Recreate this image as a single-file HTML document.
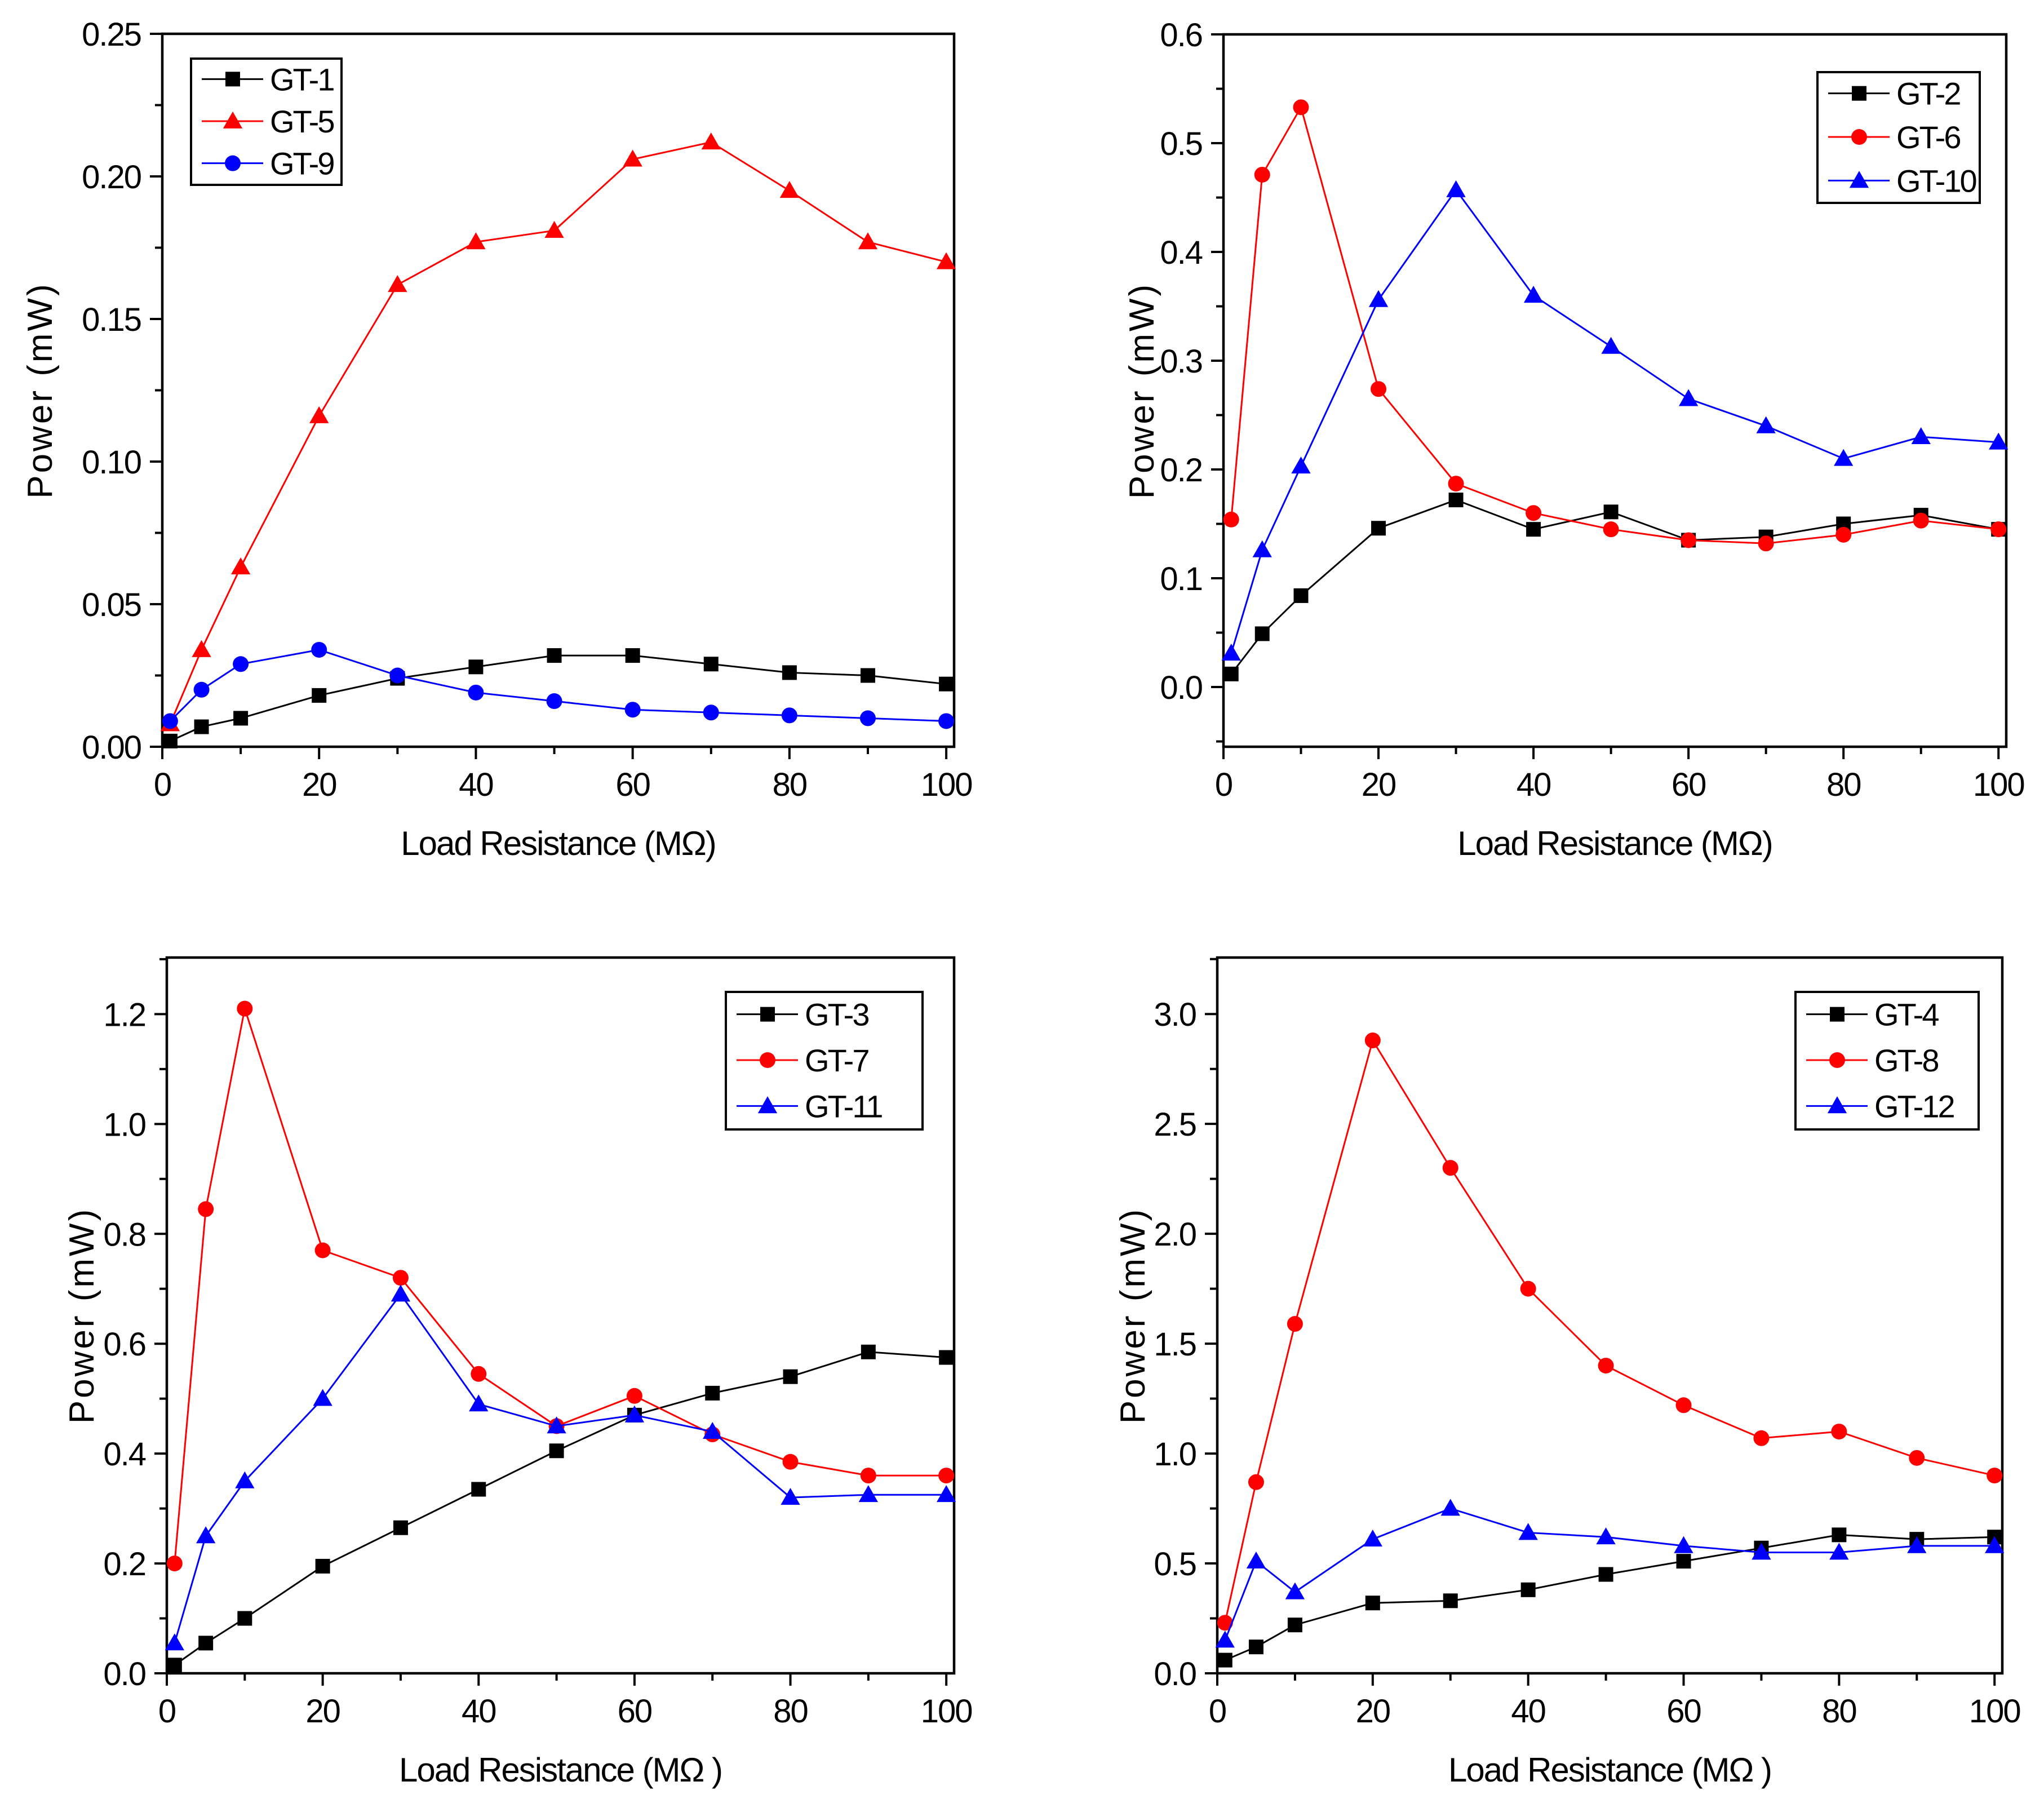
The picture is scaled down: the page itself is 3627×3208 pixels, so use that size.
<!DOCTYPE html>
<html><head><meta charset="utf-8"><style>
html,body{margin:0;padding:0;background:#fff;}
svg{display:block;font-family:"Liberation Sans",Arial,sans-serif;}
</style></head><body>
<svg id="fig" width="3627" height="3208" viewBox="0 0 3627 3208" xmlns="http://www.w3.org/2000/svg"></svg>
<script>
const xValues=[1,5,10,20,30,40,50,60,70,80,90,100];
const xTicks=[0,20,40,60,80,100];
// Panel 1
const p1Names=["GT-1","GT-5","GT-9"];
const gt1=[.002,.007,.010,.018,.024,.028,.032,.032,.029,.026,.025,.022];
const gt5=[.008,.034,.063,.116,.162,.177,.181,.206,.212,.195,.177,.170];
const gt9=[.009,.020,.029,.034,.025,.019,.016,.013,.012,.011,.010,.009];
const p1YTicks=["0.00","0.05","0.10","0.15","0.20","0.25"];
// Panel 2
const p2Names=["GT-2","GT-6","GT-10"];
const gt2=[.012,.049,.084,.146,.172,.145,.161,.135,.138,.150,.158,.145];
const gt6=[.154,.471,.533,.274,.187,.160,.145,.135,.132,.140,.153,.145];
const gt10=[.031,.126,.203,.356,.457,.360,.313,.265,.240,.210,.230,.225];
const p2YTicks=["0.0","0.1","0.2","0.3","0.4","0.5","0.6"];
// Panel 3
const p3Names=["GT-3","GT-7","GT-11"];
const gt3=[.015,.055,.10,.195,.265,.335,.405,.47,.51,.54,.585,.575];
const gt7=[.20,.845,1.21,.77,.72,.545,.45,.505,.435,.385,.36,.36];
const gt11=[.055,.25,.35,.50,.69,.49,.45,.47,.44,.32,.325,.325];
const p3YTicks=["0.0","0.2","0.4","0.6","0.8","1.0","1.2"];
// Panel 4
const p4Names=["GT-4","GT-8","GT-12"];
const gt4=[.06,.12,.22,.32,.33,.38,.45,.51,.57,.63,.61,.62];
const gt8=[.23,.87,1.59,2.88,2.30,1.75,1.40,1.22,1.07,1.10,.98,.90];
const gt12=[.15,.51,.37,.61,.75,.64,.62,.58,.55,.55,.58,.58];
const p4YTicks=["0.0","0.5","1.0","1.5","2.0","2.5","3.0"];

const NS="http://www.w3.org/2000/svg";
const svg=document.getElementById('fig');
function el(tag,attrs,parent){const e=document.createElementNS(NS,tag);for(const k in attrs)e.setAttribute(k,attrs[k]);(parent||svg).appendChild(e);return e;}

const panels=[
 {id:'p1',L:288,R:1693,T:60,B:1325,x0:0,x1:101,y0:0,y1:0.25,yt:p1YTicks,ystep:0.05,series:[gt1,gt5,gt9],names:p1Names,markers:['sq','tri','circ'],colors:['#000','#f00','#00f'],leg:[339,104,606,328],title:"Load Resistance (MΩ)",ytx:72},
 {id:'p2',L:2171,R:3560,T:61,B:1325,x0:0,x1:101,y0:-0.0549,y1:0.6,yt:p2YTicks,ystep:0.1,series:[gt2,gt6,gt10],names:p2Names,markers:['sq','circ','tri'],colors:['#000','#f00','#00f'],leg:[3225,128,3513,360],title:"Load Resistance (MΩ)",ytx:2027},
 {id:'p3',L:296,R:1693,T:1699,B:2969,x0:0,x1:101,y0:0,y1:1.303,yt:p3YTicks,ystep:0.2,series:[gt3,gt7,gt11],names:p3Names,markers:['sq','circ','tri'],colors:['#000','#f00','#00f'],leg:[1288,1760,1637,2004],title:"Load Resistance (MΩ )",ytx:146},
 {id:'p4',L:2160,R:3553,T:1699,B:2969,x0:0,x1:101,y0:0,y1:3.257,yt:p4YTicks,ystep:0.5,series:[gt4,gt8,gt12],names:p4Names,markers:['sq','circ','tri'],colors:['#000','#f00','#00f'],leg:[3186,1760,3511,2004],title:"Load Resistance (MΩ )",ytx:2011}
];

function marker(g,type,cx,cy,color,s){
  let m;
  if(type==='sq'){m=el('rect',{x:cx-s/2,y:cy-s/2,width:s,height:s,fill:color},g);}
  else if(type==='circ'){m=el('circle',{cx:cx,cy:cy,r:s/2+1,fill:color},g);}
  else {const h=s*1.1;m=el('polygon',{points:`${cx},${cy-h*0.6} ${cx-h*0.6},${cy+h*0.45} ${cx+h*0.6},${cy+h*0.45}`,fill:color},g);}
  return m;
}

panels.forEach((p,pi)=>{
  const g=el('g',{});
  
  
  const sx=v=>p.L+(v-p.x0)/(p.x1-p.x0)*(p.R-p.L);
  const sy=v=>p.B-(v-p.y0)/(p.y1-p.y0)*(p.B-p.T);
  const fr=el('rect',{x:p.L,y:p.T,width:p.R-p.L,height:p.B-p.T,fill:'none',stroke:'#000','stroke-width':4.5},g);
  
  
  xTicks.forEach((t,i)=>{
    const x=sx(t);
    el('line',{x1:x,y1:p.B,x2:x,y2:p.B+22,stroke:'#000','stroke-width':4},g);
    if(i<xTicks.length-1){const xm=sx(t+10);el('line',{x1:xm,y1:p.B,x2:xm,y2:p.B+13,stroke:'#000','stroke-width':4},g);}
    const tx=el('text',{x:x,y:p.B+87,'text-anchor':'middle','font-size':58,fill:'#000','letter-spacing':'-2'},g);
    tx.textContent=String(t);
    
    
  });
  p.yt.forEach((lab,i)=>{
    const v=parseFloat(lab);const y=sy(v);
    el('line',{x1:p.L,y1:y,x2:p.L-22,y2:y,stroke:'#000','stroke-width':4},g);
    const vm=v+p.ystep/2;
    if(vm<p.y1){const ym=sy(vm);el('line',{x1:p.L,y1:ym,x2:p.L-13,y2:ym,stroke:'#000','stroke-width':4},g);}
    const ty=el('text',{x:p.L-38,y:y+21,'text-anchor':'end','font-size':58,fill:'#000','letter-spacing':'-2'},g);
    ty.textContent=lab;
    
    
  });
  if(p.y0<0){const ym=sy(-p.ystep/2);if(ym<=p.B)el('line',{x1:p.L,y1:ym,x2:p.L-13,y2:ym,stroke:'#000','stroke-width':4},g);}
  const xt=el('text',{x:(p.L+p.R)/2,y:p.B+192,'text-anchor':'middle','font-size':60,fill:'#000','letter-spacing':'-2'},g);
  xt.textContent=p.title;
  
  
  const tyx=p.ytx+20;
  const yc=(p.T+p.B)/2;
  const yt=el('text',{x:tyx,y:yc,'text-anchor':'middle','font-size':62,fill:'#000',transform:`rotate(-90 ${tyx} ${yc})`,'letter-spacing':'4'},g);
  yt.textContent="Power (mW)";
  
  
  p.series.forEach((ser,si)=>{
    const sg=el('g',{},g);
    
    
    const pts=ser.map((v,i)=>sx(xValues[i])+','+sy(v)).join(' ');
    el('polyline',{points:pts,fill:'none',stroke:p.colors[si],'stroke-width':3},sg);
    ser.forEach((v,i)=>{
      const m=marker(sg,p.markers[si],sx(xValues[i]),sy(v),p.colors[si],26);
      
      
    });
  });
  const [lx0,ly0,lx1,ly1]=p.leg;
  const lg=el('g',{},g);
  
  
  el('rect',{x:lx0,y:ly0,width:lx1-lx0,height:ly1-ly0,fill:'#fff',stroke:'#000','stroke-width':4},lg);
  const rowH=(ly1-ly0)/3;
  p.names.forEach((n,si)=>{
    const cy=ly0+rowH*(si+0.5)-1;
    const e=el('g',{},lg);
    
    
    el('line',{x1:lx0+19,y1:cy,x2:lx0+128,y2:cy,stroke:p.colors[si],'stroke-width':3},e);
    marker(e,p.markers[si],lx0+74,cy,p.colors[si],26);
    const t=el('text',{x:lx0+140,y:cy+20,'font-size':56,fill:'#000','letter-spacing':'-3'},e);
    t.textContent=n;
  });
});
</script>
</body></html>
